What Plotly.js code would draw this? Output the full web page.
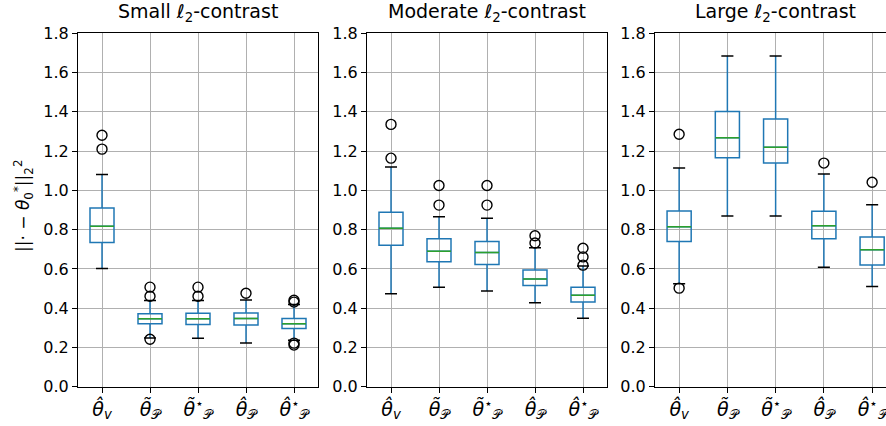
<!DOCTYPE html>
<html>
<head>
<meta charset="utf-8">
<script src="https://cdn.plot.ly/plotly-3.0.1.min.js"></script>
<style>html,body{margin:0;padding:0;background:#fff;}#chart{width:886px;height:426px;}</style>
</head>
<body>
<div id="chart"></div>
<script>
// ---- data ----
const positions = [1, 2, 3, 4, 5];
const tickLabels = [
  '<i>θ̂</i><sub><i>v</i></sub>',
  '<i>θ̃</i><sub>𝒫</sub>',
  '<i>θ̃</i><sup>⋆</sup><sub>𝒫</sub>',
  '<i>θ̂</i><sub>𝒫</sub>',
  '<i>θ̂</i><sup>⋆</sup><sub>𝒫</sub>'
];
const panelTitles = ['Small ℓ<sub>2</sub>-contrast', 'Moderate ℓ<sub>2</sub>-contrast', 'Large ℓ<sub>2</sub>-contrast'];
const yLabel = '||· − <i>θ</i><sub>0</sub><sup>*</sup>||<sub>2</sub><sup>2</sup>';

// Small contrast
const smallQ1  = [0.734, 0.320, 0.317, 0.314, 0.297];
const smallMed = [0.817, 0.346, 0.346, 0.347, 0.320];
const smallQ3  = [0.910, 0.371, 0.374, 0.376, 0.348];
const smallLo  = [0.602, 0.248, 0.247, 0.222, 0.236];
const smallHi  = [1.081, 0.439, 0.439, 0.442, 0.419];
const smallFliers = [[1.281, 1.210], [0.507, 0.461, 0.242], [0.507, 0.461], [0.476], [0.440, 0.431, 0.222, 0.212]];

// Moderate contrast
const modQ1  = [0.720, 0.637, 0.622, 0.515, 0.432];
const modMed = [0.807, 0.690, 0.683, 0.549, 0.466];
const modQ3  = [0.888, 0.753, 0.739, 0.595, 0.507];
const modLo  = [0.473, 0.507, 0.488, 0.427, 0.349];
const modHi  = [1.119, 0.866, 0.858, 0.708, 0.615];
const modFliers = [[1.336, 1.164], [1.025, 0.925], [1.025, 0.925], [0.769, 0.732], [0.705, 0.661, 0.619]];

// Large contrast
const largeQ1  = [0.739, 1.166, 1.139, 0.754, 0.620];
const largeMed = [0.815, 1.268, 1.219, 0.820, 0.698];
const largeQ3  = [0.895, 1.402, 1.363, 0.893, 0.763];
const largeLo  = [0.524, 0.869, 0.869, 0.608, 0.510];
const largeHi  = [1.114, 1.685, 1.685, 1.083, 0.927];
const largeFliers = [[1.286, 0.502], [], [], [1.139], [1.041]];

// ---- styles ----
const BLUE = '#1f77b4', GREEN = '#2ca02c';
const BOX_W = 0.5, CAP_W = 0.25;
const W = 886, H = 426;

function panelTraces(n, q1, med, q3, lo, hi, fliers) {
  const xa = n === 1 ? 'x' : 'x' + n;
  const ya = n === 1 ? 'y' : 'y' + n;
  const traces = [];
  traces.push({
    type: 'box', xaxis: xa, yaxis: ya, x: positions,
    q1: q1, median: med, q3: q3, lowerfence: lo, upperfence: hi,
    width: BOX_W, whiskerwidth: 0, boxpoints: false,
    line: {color: BLUE, width: 1.5}, fillcolor: 'rgba(0,0,0,0)',
    hoverinfo: 'skip', showlegend: false
  });
  const mx = [], my = [];
  positions.forEach((p, i) => { mx.push(p - BOX_W / 2, p + BOX_W / 2, null); my.push(med[i], med[i], null); });
  traces.push({type: 'scatter', mode: 'lines', xaxis: xa, yaxis: ya, x: mx, y: my,
    line: {color: GREEN, width: 1.5}, hoverinfo: 'skip', showlegend: false});
  const cx = [], cy = [];
  positions.forEach((p, i) => {
    cx.push(p - CAP_W / 2, p + CAP_W / 2, null, p - CAP_W / 2, p + CAP_W / 2, null);
    cy.push(hi[i], hi[i], null, lo[i], lo[i], null);
  });
  traces.push({type: 'scatter', mode: 'lines', xaxis: xa, yaxis: ya, x: cx, y: cy,
    line: {color: '#000', width: 1.5}, hoverinfo: 'skip', showlegend: false});
  const fx = [], fy = [];
  positions.forEach((p, i) => fliers[i].forEach(v => { fx.push(p); fy.push(v); }));
  traces.push({type: 'scatter', mode: 'markers', xaxis: xa, yaxis: ya, x: fx, y: fy,
    marker: {symbol: 'circle-open', size: 10, color: '#000', line: {width: 1.4, color: '#000'}},
    hoverinfo: 'skip', showlegend: false});
  return traces;
}

const data = [].concat(
  panelTraces(1, smallQ1, smallMed, smallQ3, smallLo, smallHi, smallFliers),
  panelTraces(2, modQ1, modMed, modQ3, modLo, modHi, modFliers),
  panelTraces(3, largeQ1, largeMed, largeQ3, largeLo, largeHi, largeFliers)
);

const yDomain = [1 - 386.7 / H, 1 - 33.3 / H];
const xDomains = [[78 / W, 318 / W], [367 / W, 607 / W], [655 / W, 1]];
const xRanges = [[0.5, 5.5], [0.5, 5.5], [0.5, 0.5 + (886 - 655) / 48.25]];

const layout = {
  width: W, height: H,
  margin: {l: 0, r: 0, t: 0, b: 0},
  paper_bgcolor: '#fff', plot_bgcolor: '#fff',
  showlegend: false,
  annotations: []
};
for (let n = 1; n <= 3; n++) {
  const xk = n === 1 ? 'xaxis' : 'xaxis' + n;
  const yk = n === 1 ? 'yaxis' : 'yaxis' + n;
  const xa = n === 1 ? 'x' : 'x' + n;
  const ya = n === 1 ? 'y' : 'y' + n;
  layout[xk] = {
    domain: xDomains[n - 1], range: xRanges[n - 1], anchor: ya,
    tickmode: 'array', tickvals: positions, ticktext: tickLabels,
    ticks: 'outside', ticklen: 5, tickwidth: 1, tickcolor: '#000',
    tickfont: {family: 'DejaVu Sans', size: 19, color: '#000'},
    ticklabeloverflow: 'allow',
    showgrid: true, gridcolor: '#b0b0b0', gridwidth: 1,
    showline: true, linecolor: '#000', linewidth: 1, mirror: true,
    zeroline: false, fixedrange: true
  };
  layout[yk] = {
    domain: yDomain, range: [0, 1.8], anchor: xa,
    tickmode: 'linear', tick0: 0, dtick: 0.2, tickformat: '.1f',
    ticks: 'outside', ticklen: 5, tickwidth: 1, tickcolor: '#000',
    tickfont: {family: 'DejaVu Sans', size: 16, color: '#000'},
    ticklabeloverflow: 'allow',
    showgrid: true, gridcolor: '#b0b0b0', gridwidth: 1,
    showline: true, linecolor: '#000', linewidth: 1, mirror: n < 3,
    zeroline: false, fixedrange: true
  };
  const dom = xDomains[n - 1];
  const cx = n < 3 ? (dom[0] + dom[1]) / 2 : (655 + 241.25 / 2) / W;
  layout.annotations.push({
    text: panelTitles[n - 1], xref: 'paper', yref: 'paper',
    x: cx, y: 1 - 27 / H, xanchor: 'center', yanchor: 'bottom',
    showarrow: false, font: {family: 'DejaVu Sans', size: 19, color: '#000'}
  });
}
layout.annotations.push({
  text: yLabel, xref: 'paper', yref: 'paper', x: 23 / W, y: 1 - 206 / H,
  xanchor: 'center', yanchor: 'middle', textangle: -90, showarrow: false,
  font: {family: 'DejaVu Sans', size: 17, color: '#000'}
});

Plotly.newPlot('chart', data, layout, {staticPlot: true, displayModeBar: false});
</script>
</body>
</html>
